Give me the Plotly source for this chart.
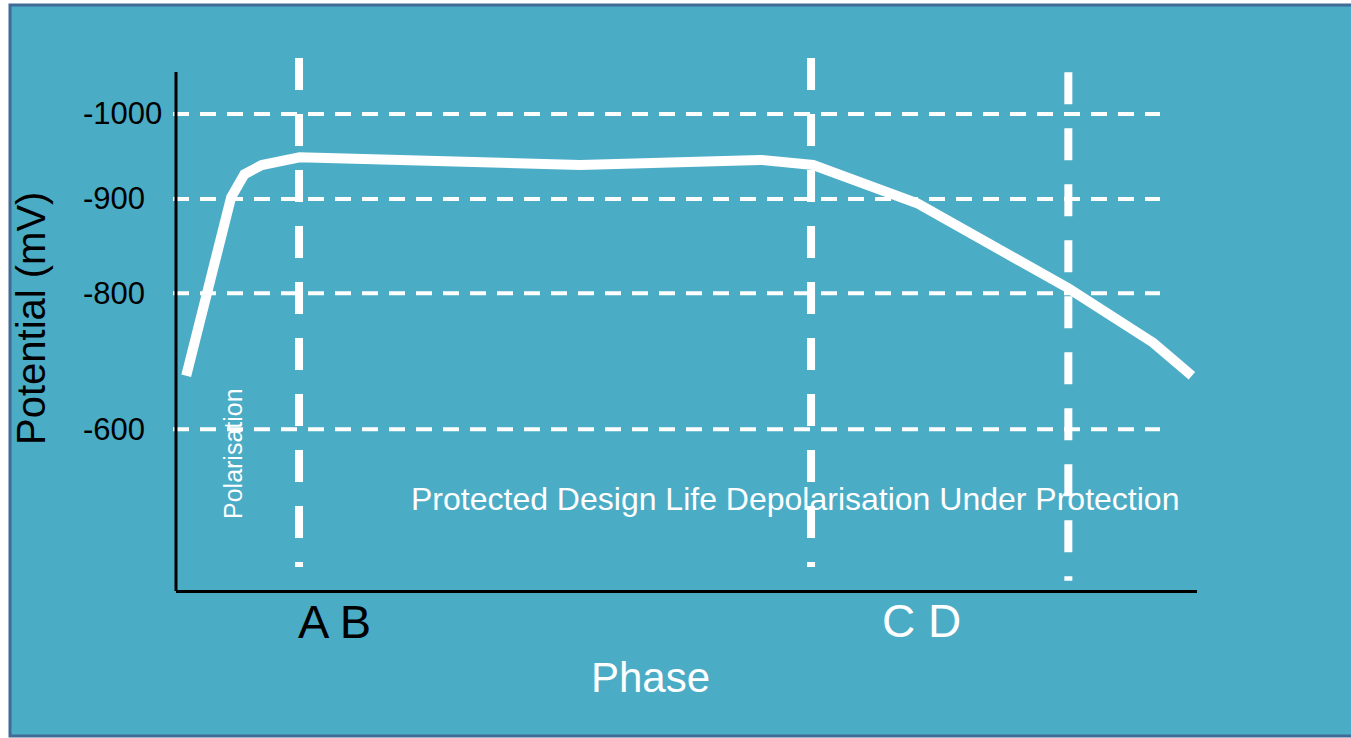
import plotly.graph_objects as go

W, H = 1351, 738

# ---- data ----
phase_pos = [1.0, 5.4, 6.7, 8.4, 12.1, 16.1, 39.6, 57.2, 62.4, 72.6, 87.4, 95.7, 99.5]
potential_mv = [-692, -902, -929, -940, -949, -948, -940, -946, -940, -895, -795, -731, -692]

y_tick_vals = [-1000, -900, -789, -629]
y_tick_labels = ["-1000", "-900", "-800", "-600"]

phase_boundaries = [12.05, 62.2, 87.4]
phase_line_top = [-1066, -1066, -1049]
phase_line_bottom = [-467, -467, -451]

FONT = "Liberation Sans, Arial, sans-serif"
BG = "#4BACC6"

def px(x):
    return x / W

def py(y):
    return 1 - y / H

fig = go.Figure()

# main curve
fig.add_trace(go.Scatter(x=phase_pos, y=potential_mv, mode="lines",
                         line=dict(color="white", width=10),
                         hoverinfo="skip", showlegend=False))

# phase boundary dashed lines
for xb, yt, yb in zip(phase_boundaries, phase_line_top, phase_line_bottom):
    fig.add_trace(go.Scatter(x=[xb, xb], y=[yt, yb], mode="lines",
                             line=dict(color="white", width=8, dash="32px,24px"),
                             hoverinfo="skip", showlegend=False, cliponaxis=False))

shapes = []
# background frame
shapes.append(dict(type="rect", xref="paper", yref="paper",
                   x0=px(10), x1=px(1360), y0=py(736), y1=py(5),
                   fillcolor=BG, line=dict(color="#3F6B96", width=3), layer="below"))
# horizontal dashed gridlines
for v in y_tick_vals:
    shapes.append(dict(type="line", xref="paper", yref="y",
                       x0=px(173), x1=px(1160), y0=v, y1=v,
                       line=dict(color="white", width=4, dash="16px,11px"), layer="below"))
# y axis line
shapes.append(dict(type="line", xref="paper", yref="paper",
                   x0=px(176), x1=px(176), y0=py(591), y1=py(72),
                   line=dict(color="black", width=3)))

annotations = []
for v, t in zip(y_tick_vals, y_tick_labels):
    annotations.append(dict(text=t, xref="paper", yref="y", x=px(81), y=v,
                            xanchor="left", yanchor="middle", showarrow=False,
                            font=dict(family=FONT, size=31, color="black")))

def ann(text, x, y, size, color, angle=0):
    annotations.append(dict(text=text, xref="paper", yref="paper", x=px(x), y=py(y),
                            xanchor="center", yanchor="middle", showarrow=False,
                            textangle=angle, font=dict(family=FONT, size=size, color=color)))

ann("Potential (mV)", 31, 319, 40, "black", -90)
ann("Polarisation", 233, 454, 25, "white", -90)
ann("Protected Design Life Depolarisation Under Protection", 795, 499, 32, "white")
ann("A B", 334.5, 621, 47, "black")
ann("C D", 921.5, 621, 46, "white")
ann("Phase", 650, 677, 42, "white")

fig.update_layout(
    width=W, height=H,
    margin=dict(l=0, r=0, t=0, b=0),
    paper_bgcolor="white", plot_bgcolor="rgba(0,0,0,0)",
    showlegend=False,
    shapes=shapes, annotations=annotations,
    xaxis=dict(domain=[px(176), px(1197)], range=[0, 100], showgrid=False,
               zeroline=False, showticklabels=False, ticks="",
               showline=True, linecolor="black", linewidth=3, automargin=False),
    yaxis=dict(domain=[py(590), py(55)], range=[-440, -1069.4], showgrid=False,
               zeroline=False, showticklabels=False, ticks="", showline=False,
               automargin=False),
)

fig.write_html("out.html",
               config={"displayModeBar": False},
               post_script="document.body.style.margin='0';document.body.style.overflow='hidden';")
